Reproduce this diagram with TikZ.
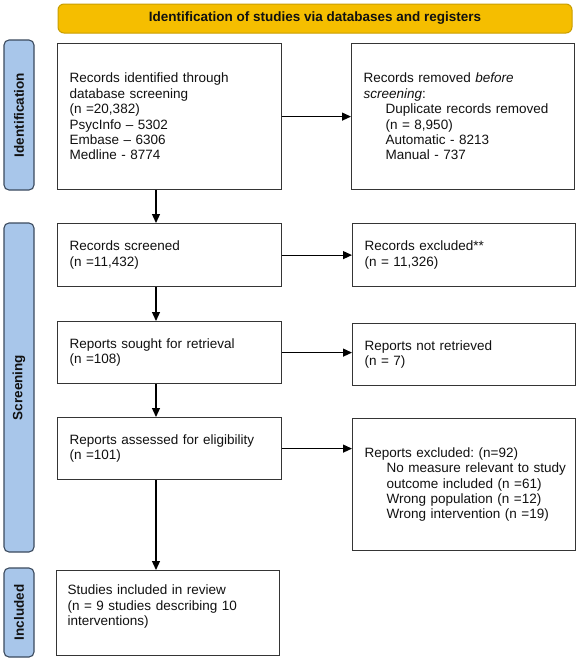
\documentclass[tikz,border=0pt]{standalone}
\usepackage{fontspec}
\setmainfont{Liberation Sans}
\usetikzlibrary{arrows.meta}
\frenchspacing
\definecolor{bannerfill}{HTML}{F5BE00}
\definecolor{bannerdraw}{HTML}{C99E00}
\definecolor{phasefill}{HTML}{A8C6EA}
\definecolor{phasedraw}{HTML}{3B4A5E}
\definecolor{boxdraw}{HTML}{353535}
\definecolor{txt}{HTML}{111111}
\newcommand{\indln}[1]{\hspace*{22pt}\mbox{#1}}
\begin{document}
\begin{tikzpicture}[x=1pt,y=-1pt,
  font=\fontsize{13.5}{15.4}\selectfont\frenchspacing,
  every node/.style={text=txt},
  flowbox/.style={draw=boxdraw, line width=1.2pt, anchor=north west, align=left,
    inner xsep=12pt, inner ysep=0pt},
  arr/.style={draw=black, line width=1.2pt, -{Triangle[length=9pt,width=8pt]}},
  banner/.style={draw=bannerdraw, fill=bannerfill, line width=1pt, rounded corners=6pt,
    minimum width=514pt, minimum height=29pt, inner sep=0pt,
    font=\fontsize{13.5}{15.4}\selectfont\bfseries},
  phase/.style={draw=phasedraw, fill=phasefill, line width=1.1pt, rounded corners=5pt,
    rotate=90, minimum height=30pt, inner sep=0pt,
    font=\fontsize{13.5}{15.4}\selectfont\bfseries}
]
\useasboundingbox[fill=white] (0,0) rectangle (578,662);

% banner and phase labels
\node[banner] (banner) at (315,18.5) {Identification of studies via databases and registers};
\node[phase, minimum width=150pt] (pid) at (19,115) {Identification};
\node[phase, minimum width=329pt] (psc) at (19,387.5) {Screening};
\node[phase, minimum width=89pt] (pin) at (19,612.5) {Included};

% boxes
\node[flowbox, text width=200pt, minimum height=146pt] (b1) at (57,43)
  {Records identified through\\database screening\\(n =20,382)\\PsycInfo – 5302\\Embase – 6306\\Medline - 8774};
\node[flowbox, text width=199pt, minimum height=146pt] (b2) at (351,43)
  {Records removed \textit{before}\\\textit{screening}:\\\indln{Duplicate records removed}\\\indln{(n = 8,950)}\\\indln{Automatic - 8213}\\\indln{Manual - 737}};
\node[flowbox, text width=200pt, minimum height=63pt] (b3) at (57,223)
  {Records screened\\(n =11,432)};
\node[flowbox, text width=199pt, minimum height=63pt] (b4) at (352,223)
  {Records excluded**\\(n = 11,326)};
\node[flowbox, text width=200pt, minimum height=62pt] (b5) at (57,321)
  {Reports sought for retrieval\\(n =108)};
\node[flowbox, text width=199pt, minimum height=62pt] (b6) at (352,323)
  {Reports not retrieved\\(n = 7)};
\node[flowbox, text width=200pt, minimum height=62pt] (b7) at (57,417)
  {Reports assessed for eligibility\\(n =101)};
\node[flowbox, text width=199pt, minimum height=132pt] (b8) at (352,418)
  {Reports excluded: (n=92)\\\indln{No measure relevant to study}\\\indln{outcome included (n =61)}\\\indln{Wrong population (n =12)}\\\indln{Wrong intervention (n =19)}};
\node[flowbox, inner xsep=11pt, text width=201pt, minimum height=85pt] (b9) at (56,570)
  {Studies included in review\\(n = 9 studies describing 10\\interventions)\\\mbox{}};

% connectors
\coordinate (xa) at (156,0);
\draw[arr] (b1.east) -- (b1.east -| b2.west);
\draw[arr] (b3.east) -- (b3.east -| b4.west);
\draw[arr] (b5.east) -- (b5.east -| b6.west);
\draw[arr] (b7.east) -- (b7.east -| b8.west);
\draw[arr] (b1.south -| xa) -- (b3.north -| xa);
\draw[arr] (b3.south -| xa) -- (b5.north -| xa);
\draw[arr] (b5.south -| xa) -- (b7.north -| xa);
\draw[arr] (b7.south -| xa) -- (b9.north -| xa);
\end{tikzpicture}
\end{document}
